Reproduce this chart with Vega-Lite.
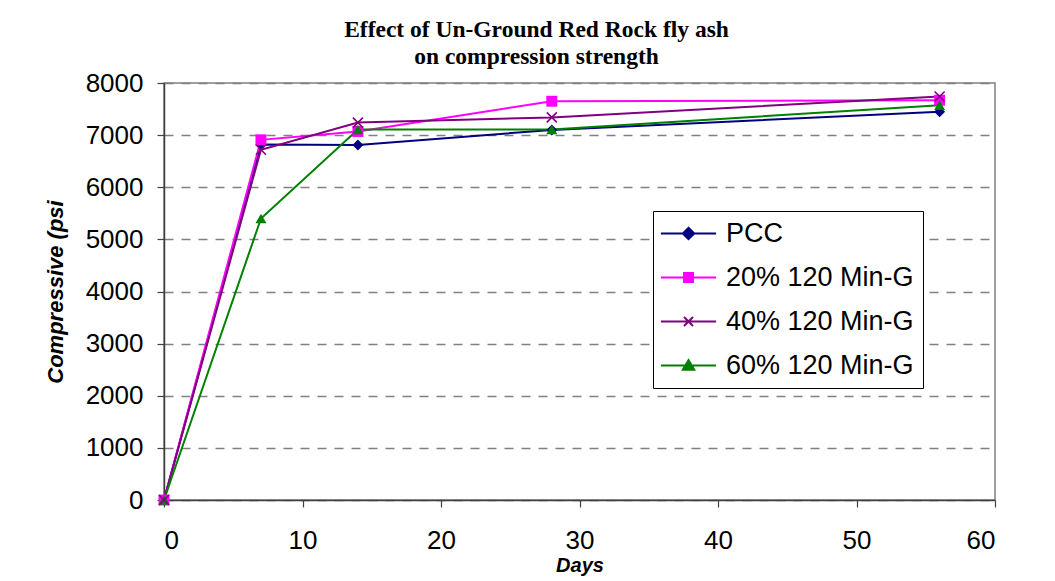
{
  "$schema": "https://vega.github.io/schema/vega-lite/v6.json",
  "width": 831,
  "height": 417,
  "autosize": {"type": "none"},
  "padding": {"left": 164, "top": 83, "right": 60, "bottom": 81},
  "background": "white",
  "title": {
    "text": ["Effect of Un-Ground Red Rock fly ash", "on compression strength"],
    "font": "Liberation Serif",
    "fontSize": 23.5,
    "fontWeight": "bold",
    "color": "black",
    "anchor": "middle",
    "frame": "group",
    "dx": -43,
    "offset": 2,
    "lineHeight": 27
  },
  "data": {
    "values": [
      {"series": "PCC", "day": 0, "psi": 0},
      {"series": "PCC", "day": 7, "psi": 6820},
      {"series": "PCC", "day": 14, "psi": 6810},
      {"series": "PCC", "day": 28, "psi": 7100},
      {"series": "PCC", "day": 56, "psi": 7450},
      {"series": "20% 120 Min-G", "day": 0, "psi": 0},
      {"series": "20% 120 Min-G", "day": 7, "psi": 6910},
      {"series": "20% 120 Min-G", "day": 14, "psi": 7070},
      {"series": "20% 120 Min-G", "day": 28, "psi": 7650},
      {"series": "20% 120 Min-G", "day": 56, "psi": 7670},
      {"series": "40% 120 Min-G", "day": 0, "psi": 0},
      {"series": "40% 120 Min-G", "day": 7, "psi": 6720},
      {"series": "40% 120 Min-G", "day": 14, "psi": 7240},
      {"series": "40% 120 Min-G", "day": 28, "psi": 7340},
      {"series": "40% 120 Min-G", "day": 56, "psi": 7740},
      {"series": "60% 120 Min-G", "day": 0, "psi": 0},
      {"series": "60% 120 Min-G", "day": 7, "psi": 5400},
      {"series": "60% 120 Min-G", "day": 14, "psi": 7110},
      {"series": "60% 120 Min-G", "day": 28, "psi": 7110},
      {"series": "60% 120 Min-G", "day": 56, "psi": 7575}
    ]
  },
  "encoding": {
    "x": {
      "field": "day",
      "type": "quantitative",
      "scale": {"domain": [0, 60], "nice": false},
      "axis": {
        "values": [0, 10, 20, 30, 40, 50, 60],
        "title": "Days",
        "grid": false,
        "labelPadding": 20,
        "titlePadding": 2,
        "titleFontSize": 20
      }
    },
    "y": {
      "field": "psi",
      "type": "quantitative",
      "scale": {"domain": [0, 8000], "nice": false},
      "axis": {
        "values": [0, 1000, 2000, 3000, 4000, 5000, 6000, 7000, 8000],
        "format": "d",
        "title": "Compressive (psi",
        "grid": true,
        "gridColor": "#808080",
        "gridDash": [9, 8],
        "gridWidth": 1.3,
        "labelPadding": 14,
        "titlePadding": 18,
        "titleFontSize": 22
      }
    }
  },
  "layer": [
    {
      "mark": {"type": "line", "strokeWidth": 2},
      "encoding": {
        "color": {
          "field": "series",
          "type": "nominal",
          "scale": {
            "domain": ["PCC", "20% 120 Min-G", "40% 120 Min-G", "60% 120 Min-G"],
            "range": ["#000080", "#FF00FF", "#800080", "#008000"]
          },
          "legend": null
        }
      }
    },
    {
      "transform": [{"filter": "datum.series != '40% 120 Min-G'"}],
      "mark": {"type": "point", "filled": true, "opacity": 1, "size": 120},
      "encoding": {
        "color": {"field": "series", "type": "nominal", "legend": null},
        "shape": {
          "field": "series",
          "type": "nominal",
          "scale": {
            "domain": ["PCC", "20% 120 Min-G", "40% 120 Min-G", "60% 120 Min-G"],
            "range": ["diamond", "square", "cross", "triangle-up"]
          },
          "legend": null
        }
      }
    },
    {
      "transform": [{"filter": "datum.series == '40% 120 Min-G'"}],
      "mark": {"type": "point", "filled": false, "opacity": 1, "size": 100, "strokeWidth": 1.6, "shape": "M-1,-1L1,1M-1,1L1,-1"},
      "encoding": {
        "color": {"field": "series", "type": "nominal", "legend": null}
      }
    },
    {
      "transform": [{"filter": "datum.day < 0"}],
      "mark": {"type": "point", "filled": true, "opacity": 1, "size": 144, "strokeWidth": 2},
      "encoding": {
        "fill": {
          "field": "series",
          "type": "nominal",
          "scale": {
            "domain": ["PCC", "20% 120 Min-G", "40% 120 Min-G", "60% 120 Min-G"],
            "range": ["#000080", "#FF00FF", "#800080", "#008000"]
          },
          "legend": {
            "title": null,
            "orient": "none",
            "legendX": 489,
            "legendY": 128,
            "padding": 9,
            "strokeColor": "black",
            "fillColor": "white",
            "labelFont": "Liberation Sans",
            "labelFontSize": 27,
            "labelColor": "black",
            "labelLimit": 400,
            "symbolSize": 144,
            "symbolStrokeWidth": 2,
            "symbolOffset": 13,
            "labelOffset": 24,
            "rowPadding": 16
          }
        },
        "stroke": {
          "field": "series",
          "type": "nominal",
          "scale": {
            "domain": ["PCC", "20% 120 Min-G", "40% 120 Min-G", "60% 120 Min-G"],
            "range": ["#000080", "#FF00FF", "#800080", "#008000"]
          },
          "legend": {
            "title": null,
            "orient": "none",
            "legendX": 489,
            "legendY": 128
          }
        },
        "shape": {
          "field": "series",
          "type": "nominal",
          "scale": {
            "domain": ["PCC", "20% 120 Min-G", "40% 120 Min-G", "60% 120 Min-G"],
            "range": [
              "M-4.6,0H4.6M0,-0.95L0.95,0L0,0.95L-0.95,0Z",
              "M-4.6,0H4.6M-0.75,-0.75H0.75V0.75H-0.75Z",
              "M-4.6,0H4.6M-0.75,-0.75L0.75,0.75M-0.75,0.75L0.75,-0.75",
              "M-4.6,0H4.6M0,-0.9L0.95,0.7H-0.95Z"
            ]
          },
          "legend": {
            "title": null,
            "orient": "none",
            "legendX": 489,
            "legendY": 128
          }
        }
      }
    }
  ],
  "resolve": {
    "scale": {"shape": "independent"},
    "legend": {"fill": "independent", "stroke": "independent", "shape": "independent"}
  },
  "config": {
    "view": {"stroke": "#808080", "strokeWidth": 1.5},
    "axis": {
      "domainColor": "#404040",
      "domainWidth": 1.5,
      "tickColor": "#404040",
      "tickSize": 7,
      "tickWidth": 1.2,
      "labelFont": "Liberation Sans",
      "labelFontSize": 26,
      "labelColor": "black",
      "titleFont": "Liberation Sans",
      "titleFontStyle": "italic",
      "titleFontWeight": "bold",
      "titleColor": "black"
    }
  }
}
